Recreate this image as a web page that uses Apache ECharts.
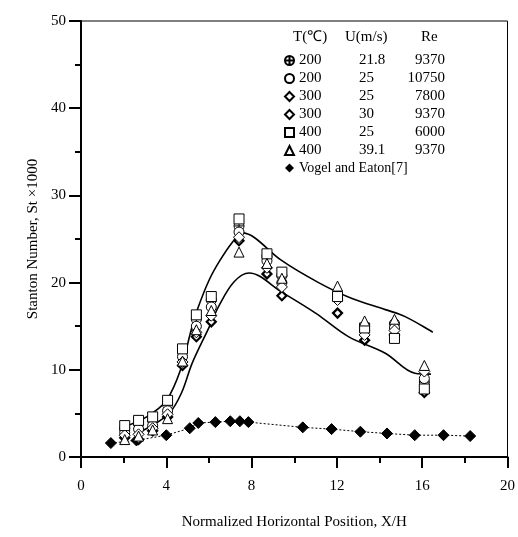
<!DOCTYPE html>
<html><head><meta charset="utf-8">
<script src="https://cdn.jsdelivr.net/npm/echarts@6/dist/echarts.min.js"></script>
<style>html,body{margin:0;padding:0;background:#fff}#c{width:518px;height:537px}</style>
</head><body><div id="c"></div><script>
// ---- data ----
const xPositions = [2.05, 2.7, 3.36, 4.06, 4.76, 5.41, 6.11, 7.41, 8.72, 9.42, 12.03, 13.3, 14.7, 16.1];
const st_200_218 = [3.3, 3.8, 4.2, 6.0, 12.2, 15.8, 18.0, 26.5, 23.0, 20.8, 18.6, 15.0, 15.3, 8.6];
const st_200_25  = [2.8, 3.2, 3.6, 5.3, 11.5, 15.0, 17.2, 25.8, 22.5, 20.0, 18.2, 14.5, 14.8, 9.0];
const st_300_25  = [2.2, 2.0, 3.0, 4.6, 10.5, 13.8, 15.5, 24.8, 21.0, 18.5, 16.5, 13.4, 14.0, 7.4];
const st_300_30  = [2.5, 2.6, 3.3, 4.9, 10.9, 14.3, 16.2, 25.2, 21.7, 19.5, 18.0, 14.0, 14.5, 9.8];
const st_400_25  = [3.6, 4.2, 4.6, 6.5, 12.4, 16.3, 18.4, 27.3, 23.3, 21.2, 18.4, 14.8, 13.6, 7.8];
const st_400_391 = [2.0, 2.4, 3.1, 4.4, 11.0, 14.6, 16.8, 23.5, 22.2, 20.5, 19.6, 15.6, 15.8, 10.5];

const vogelX  = [1.4, 2.6, 4.0, 5.1, 5.5, 6.3, 7.0, 7.45, 7.85, 10.4, 11.75, 13.1, 14.35, 15.65, 17.0, 18.25];
const vogelSt = [1.6, 1.9, 2.5, 3.3, 3.9, 4.0, 4.1, 4.1, 4.0, 3.4, 3.2, 2.9, 2.7, 2.5, 2.5, 2.4];

const upperX  = [1.96, 3.08, 4.01, 4.71, 5.17, 5.5, 6.01, 6.48, 7.09, 7.55, 8.11, 9.37, 11.14, 12.68, 14.27, 15.2, 16.5];
const upperSt = [3.4, 4.6, 6.5, 10.3, 14.6, 17.2, 20.3, 22.4, 24.6, 25.7, 25.2, 22.6, 20.0, 18.2, 16.9, 16.1, 14.3];
const lowerX  = [2.61, 3.22, 4.15, 4.71, 5.22, 6.01, 6.48, 7.18, 7.88, 9.42, 11.0, 12.54, 14.27, 15.66, 16.41];
const lowerSt = [2.75, 3.44, 5.05, 7.34, 10.8, 14.9, 17.4, 20.1, 21.1, 18.9, 16.5, 13.8, 11.9, 9.6, 9.5];

const tempLabels = ['200', '200', '300', '300', '400', '400'];
const velLabels  = ['21.8', '25', '25', '30', '25', '39.1'];
const reLabels   = ['9370', '10750', '7800', '9370', '6000', '9370'];
const headerLabels = ['T(\u2103)', 'U(m/s)', 'Re'];
const vogelName = 'Vogel and Eaton[7]';
const xTitle = 'Normalized Horizontal Position, X/H';
const yTitle = 'Stanton Number, St \u00d71000';

// ---- build ----
const font = 'Liberation Serif';
const zip = (xs, ys) => xs.map((x, i) => [x, ys[i]]);
const plusCircle = 'path://M10,0A10,10,0,1,1,10,20A10,10,0,1,1,10,0ZM10,0L10,20M0,10L20,10';
const seriesDefs = [
  { vals: st_200_218, symbol: plusCircle, size: 10, bw: 1 },
  { vals: st_200_25,  symbol: 'circle',   size: 10, bw: 1 },
  { vals: st_300_25,  symbol: 'diamond',  size: 9,  bw: 2.2 },
  { vals: st_300_30,  symbol: 'diamond',  size: 11, bw: 1 },
  { vals: st_400_25,  symbol: 'rect',     size: 10, bw: 1 },
  { vals: st_400_391, symbol: 'triangle', size: 10, bw: 1 }
];
const names = seriesDefs.map((d, i) => tempLabels[i] + '|' + velLabels[i] + '|' + reLabels[i] + '|' + i);

const series = [
  { type: 'line', data: zip(upperX, upperSt), smooth: 0.35, symbol: 'none', z: 2,
    lineStyle: { color: '#000', width: 1.6 }, silent: true },
  { type: 'line', data: zip(lowerX, lowerSt), smooth: 0.35, symbol: 'none', z: 2,
    lineStyle: { color: '#000', width: 1.6 }, silent: true }
];
seriesDefs.forEach((d, i) => {
  series.push({
    name: names[i], type: 'scatter', data: zip(xPositions, d.vals), z: 5,
    symbol: d.symbol, symbolSize: d.size,
    itemStyle: { color: '#fff', borderColor: '#000', borderWidth: d.bw, opacity: 1 }
  });
});
series.push({
  name: vogelName, type: 'line', data: zip(vogelX, vogelSt), z: 4,
  symbol: 'diamond', symbolSize: 11, showAllSymbol: true,
  itemStyle: { color: '#000', borderColor: '#000' },
  lineStyle: { color: '#000', width: 1, type: [2, 2] }
});

const legendData = names.map(n => ({ name: n }));
legendData.push({ name: vogelName, icon: 'diamond', itemStyle: { color: '#000', borderColor: '#000' } });

const chart = echarts.init(document.getElementById('c'));
chart.setOption({
  animation: false,
  backgroundColor: '#fff',
  textStyle: { fontFamily: font, color: '#000' },
  grid: { left: 81, right: 10, top: 21, bottom: 80, show: true, borderColor: '#000', borderWidth: 1, backgroundColor: 'transparent' },
  xAxis: {
    type: 'value', min: 0, max: 20, interval: 4,
    name: xTitle, nameLocation: 'middle', nameGap: 58,
    nameTextStyle: { fontFamily: font, fontSize: 15, color: '#000' },
    axisLine: { show: true, lineStyle: { color: '#000', width: 2 } },
    axisTick: { show: true, inside: false, length: 11, lineStyle: { color: '#000', width: 2 } },
    minorTick: { show: true, splitNumber: 2, length: 6, lineStyle: { color: '#000', width: 2 } },
    axisLabel: { fontFamily: font, fontSize: 15, color: '#000', margin: 22 },
    splitLine: { show: false }
  },
  yAxis: {
    type: 'value', min: 0, max: 50, interval: 10,
    name: yTitle, nameLocation: 'middle', nameGap: 36, nameRotate: 90,
    nameTextStyle: { fontFamily: font, fontSize: 15, color: '#000' },
    axisLine: { show: true, lineStyle: { color: '#000', width: 2 } },
    axisTick: { show: true, inside: false, length: 12, lineStyle: { color: '#000', width: 2 } },
    minorTick: { show: true, splitNumber: 2, length: 6, lineStyle: { color: '#000', width: 2 } },
    axisLabel: { fontFamily: font, fontSize: 15, color: '#000', margin: 15 },
    splitLine: { show: false }
  },
  legend: {
    data: legendData,
    orient: 'vertical', left: 279, top: 48,
    itemWidth: 9, itemHeight: 9, itemGap: 3,
    selectedMode: false,
    formatter: name => {
      const i = names.indexOf(name);
      if (i >= 0) return '{t|' + tempLabels[i] + '}{u|' + velLabels[i] + '}{r|' + reLabels[i] + '}';
      return '{v|' + name + '}';
    },
    textStyle: {
      fontFamily: font, fontSize: 15, color: '#000',
      rich: {
        t: { width: 60, fontFamily: font, fontSize: 15, lineHeight: 15 },
        u: { width: 44, fontFamily: font, fontSize: 15, lineHeight: 15 },
        r: { width: 42, align: 'right', fontFamily: font, fontSize: 15, lineHeight: 15 },
        v: { fontFamily: font, fontSize: 14, lineHeight: 15 }
      }
    }
  },
  graphic: [
    { type: 'text', left: 293, top: 30, style: { text: headerLabels[0], font: '15px "Liberation Serif"', fill: '#000' } },
    { type: 'text', left: 345, top: 30, style: { text: headerLabels[1], font: '15px "Liberation Serif"', fill: '#000' } },
    { type: 'text', left: 421, top: 30, style: { text: headerLabels[2], font: '15px "Liberation Serif"', fill: '#000' } }
  ],
  series: series
});
</script></body></html>
